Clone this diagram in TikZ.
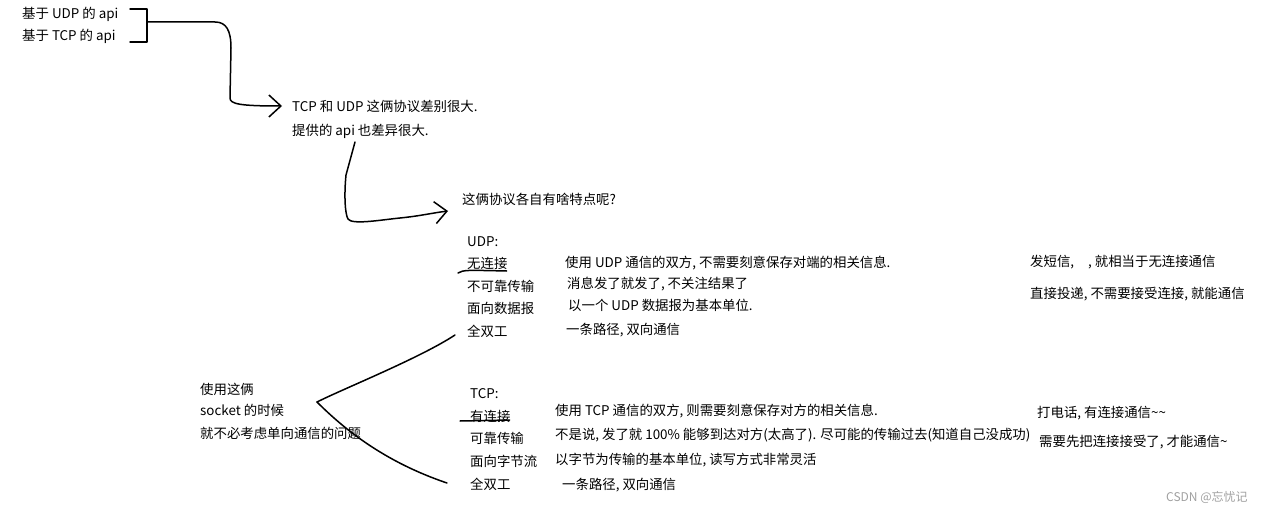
\documentclass[tikz,border=0pt]{standalone}
\usepackage{fontspec}
\setmainfont{Noto Sans CJK SC}
\usetikzlibrary{arrows.meta}
\definecolor{markgray}{RGB}{160,160,160}
\tikzset{
  txt/.style={anchor=west, inner sep=0pt, font=\fontsize{13.4}{15}\selectfont},
  pen/.style={line width=1.5pt, line cap=round, line join=round},
  barb/.style={-{Straight Barb[length=12pt,width=22pt,line width=1.5pt]}}
}
\begin{document}
\begin{tikzpicture}[x=1pt,y=-1pt]
\useasboundingbox (0,0) rectangle (1281,513);

\def\xu{467};
\def\xt{470};
\def\xr{1030};

% api
\node[txt] (udpapi) at (22,14) {基于 UDP 的 api};
\node[txt] (tcpapi) at (22,36) {基于 TCP 的 api};
\draw[pen] (130,9) -- (147,9) -- (147,42) -- (130,42);
\coordinate (brk) at (147,22);

\node[txt] (diff) at (292,106) {TCP 和 UDP 这俩协议差别很大.};
\node[txt] (apidiff) at (292,131) {提供的 api 也差异很大.};
\draw[pen, barb] (brk) -- (215,22) .. controls (226,22) and (231,30) .. (231,48)
  -- (230,98) .. controls (230,104) and (240,106) .. ([xshift=-10pt]diff.west);

\node[txt] (ask) at (462,199) {这俩协议各自有啥特点呢?};
\coordinate (ap) at (355,142);
\draw[pen, barb] (ap) -- (346,175) .. controls (344,195) and (345,214) .. (348,219)
  .. controls (352,225) and (380,220) .. (400,218) .. controls (420,216) and (432,213) .. ([shift={(-14,12)}]ask.west);

% UDP
\node[txt] (udp) at (\xu,242) {UDP:};
\node[txt] (udpa) at (\xu,263) {无连接};
\node[txt] (udpb) at (\xu,286) {不可靠传输};
\node[txt] (udpc) at (\xu,308) {面向数据报};
\node[txt] (udpd) at (\xu,331) {全双工};
\draw[pen] ([shift={(-9,10)}]udpa.west) .. controls ([shift={(-3,7)}]udpa.west) .. ([shift={(-1,8)}]udpa.east);

\node[txt] (udpa2) at (565,263) {使用 UDP 通信的双方, 不需要刻意保存对端的相关信息.};
\node[txt] (udpb2) at (567,284) {消息发了就发了, 不关注结果了};
\node[txt] (udpc2) at (568,305) {以一个 UDP 数据报为基本单位.};
\node[txt] (udpd2) at (566,330) {一条路径, 双向通信};

\node[txt] (sms) at (\xr,262) {发短信,};
\node[txt] (sms2) at (1088,262) {, 就相当于无连接通信};
\node[txt] (post) at (\xr,294) {直接投递, 不需要接受连接, 就能通信};

% TCP
\node[txt] (tcp) at (\xt,394) {TCP:};
\node[txt] (tcpa) at (\xt,416) {有连接};
\node[txt] (tcpb) at (\xt,438) {可靠传输};
\node[txt] (tcpc) at (\xt,461) {面向字节流};
\node[txt] (tcpd) at (\xt,484) {全双工};
\draw[pen] ([shift={(-10,5)}]tcpa.west) -- ([shift={(-1,4)}]tcpa.east);

\node[txt] (tcpa2) at (555,411) {使用 TCP 通信的双方, 则需要刻意保存对方的相关信息.};
\node[txt] (tcpb2) at (555,435) {不是说, 发了就 100\% 能够到达对方(太高了). 尽可能的传输过去(知道自己没成功)};
\node[txt] (tcpc2) at (555,460) {以字节为传输的基本单位, 读写方式非常灵活};
\node[txt] (tcpd2) at (562,485) {一条路径, 双向通信};

\node[txt] (call) at (1037,413) {打电话, 有连接通信\textasciitilde\textasciitilde};
\node[txt] (accept) at (1039,442) {需要先把连接接受了, 才能通信\textasciitilde};

% socket
\node[txt] (use) at (200,389) {使用这俩};
\node[txt] (sock) at (200,410) {socket 的时候};
\node[txt] (noneed) at (200,433) {就不必考虑单向通信的问题};
\coordinate (fork) at (317,402);
\draw[pen] (fork) .. controls (345,388) and (420,358) .. ([shift={(-12,4)}]udpd.west);
\draw[pen] (fork) .. controls (345,430) and (385,462) .. ([shift={(-23,-1)}]tcpd.west);

\node[txt, text=markgray, font=\fontsize{12}{14}\selectfont] (mark) at (1166,497) {CSDN @忘忧记};
\end{tikzpicture}
\end{document}
